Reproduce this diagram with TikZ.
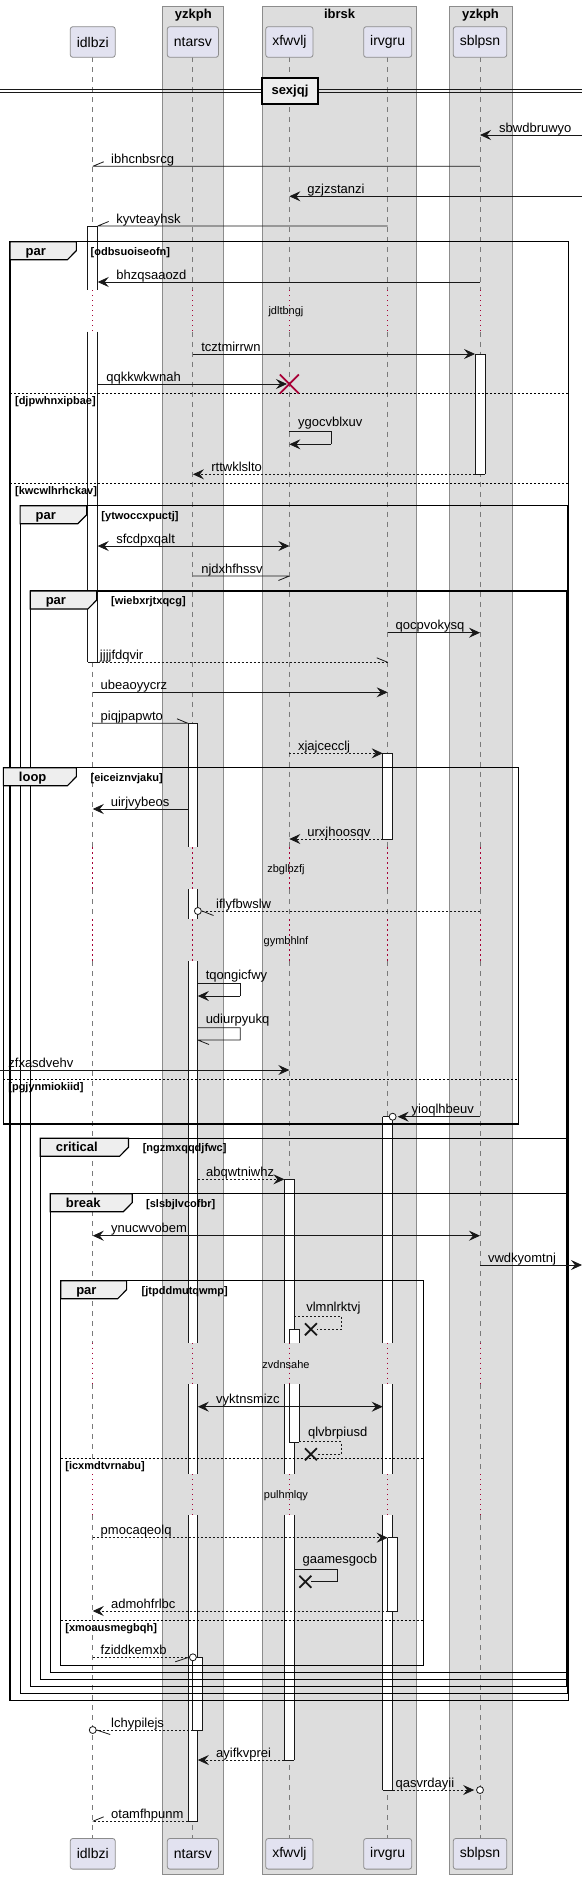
\documentclass[tikz,border=0pt]{standalone}
\usepackage{fontspec}
\setmainfont{Liberation Sans}
\usetikzlibrary{arrows.meta}
\definecolor{grpfill}{HTML}{DDDDDD}
\definecolor{grpline}{HTML}{8C8C8C}
\definecolor{partfill}{HTML}{E2E2F0}
\definecolor{partline}{HTML}{8C8C8C}
\definecolor{lifecol}{HTML}{7A7A7A}
\definecolor{crim}{HTML}{A80036}
\definecolor{tabfill}{HTML}{EEEEEE}
\definecolor{ink}{HTML}{181818}
\tikzset{
  grp/.style={draw=grpline, fill=grpfill, line width=0.8pt},
  grptitle/.style={anchor=base, inner sep=0, font=\bfseries\fontsize{13}{15}\selectfont},
  part/.style={draw=partline, fill=partfill, rounded corners=2.5pt, minimum height=30.6pt, inner xsep=6.5pt, inner ysep=0pt, font=\fontsize{14}{16}\selectfont, line width=0.8pt},
  life/.style={draw=lifecol, dash pattern=on 5pt off 5pt, line width=0.8pt},
  delayline/.style={draw=crim, dash pattern=on 1.3pt off 3.7pt, line width=1pt},
  actl/.style={draw=ink, line width=0.8pt},
  msg/.style={draw=ink, line width=0.8pt},
  ret/.style={msg, dash pattern=on 2pt off 2pt},
  head/.style={-{Stealth[length=11pt,width=10pt,inset=4pt]}},
  bihead/.style={{Stealth[length=11pt,width=10pt,inset=4pt]}-{Stealth[length=11pt,width=10pt,inset=4pt]}},
  lbl/.style={anchor=base west, inner sep=0, font=\fontsize{13}{15}\selectfont},
  frm/.style={draw=black, line width=1.2pt},
  tabst/.style={draw=black, fill=tabfill, line width=1.2pt},
  ttl/.style={anchor=base west, inner sep=0, font=\bfseries\fontsize{13}{15}\selectfont},
  cond/.style={anchor=base west, inner sep=0, font=\bfseries\fontsize{11}{13}\selectfont},
  sepl/.style={draw=black, line width=0.8pt, dash pattern=on 2pt off 2pt},
  dtext/.style={inner sep=0, font=\fontsize{11}{13}\selectfont},
  circ/.style={draw=ink, fill=white, line width=0.8pt},
  divbox/.style={draw=black, fill=tabfill, line width=1.6pt, minimum width=56pt, minimum height=26pt, inner sep=0, font=\bfseries\fontsize{13}{15}\selectfont}
}
\newcommand\actseg[6]{%
  \fill[white] (#1,#3) rectangle (#2,#4);
  \draw[actl] (#1,#3) -- (#1,#4) (#2,#3) -- (#2,#4);
  \ifnum#5=1 \draw[actl] (#1,#3) -- (#2,#3);\fi
  \ifnum#6=1 \draw[actl] (#1,#4) -- (#2,#4);\fi}
\newcommand\sdframe[9]{%
  \draw[frm] (#1,#2) rectangle (#3,#4);
  \filldraw[tabst] (#1,#2) -- (#5,#2) -- (#5,{#2+9}) -- ({#5-9},{#2+18}) -- (#1,{#2+18}) -- cycle;
  \node[ttl] (#9t) at ({#1+15.5},{#2+13.5}) {#6};
  \node[cond] (#9c) at (#8,{#2+13.5}) {#7};}
\newcommand\lifeseg[1]{%
  \draw[life] (#1,57.3) -- (#1,290);
  \draw[delayline] (#1,290) -- (#1,331.7);
  \draw[life] (#1,331.7) -- (#1,847.3);
  \draw[delayline] (#1,847.3) -- (#1,889);
  \draw[life] (#1,889) -- (#1,919.3);
  \draw[delayline] (#1,919.3) -- (#1,961);
  \draw[life] (#1,961) -- (#1,1342.7);
  \draw[delayline] (#1,1342.7) -- (#1,1384);
  \draw[life] (#1,1384) -- (#1,1474);
  \draw[delayline] (#1,1474) -- (#1,1515);
  \draw[life] (#1,1515) -- (#1,1838.3);}
\newcommand\xcross[4]{%
  \draw[#4, line width=1.8pt] ({#1-#3},{#2-#3}) -- ({#1+#3},{#2+#3}) ({#1-#3},{#2+#3}) -- ({#1+#3},{#2-#3});}
\begin{document}
\begin{tikzpicture}[x=0.993pt,y=-1pt]
\useasboundingbox (0,0) rectangle (586.1,1879);
\fill[white] (0,0) rectangle (586.1,1879);
% group boxes
\draw[grp] (163.9,6) rectangle (225.4,1874);
\node[grptitle] (g1) at (194.65,18.5) {yzkph};
\draw[grp] (264.4,6) rectangle (419.6,1874);
\node[grptitle] (g2) at (342,18.5) {ibrsk};
\draw[grp] (452.25,6) rectangle (515.6,1874);
\node[grptitle] (g3) at (483.9,18.5) {yzkph};
% lifelines
\foreach \xx in {93.4,194.25,291.4,390.4,483.4} {\lifeseg{\xx}}
% participants
\node[part] (pA) at (93.4,42) {idlbzi};
\node[part] (pB) at (194.25,42) {ntarsv};
\node[part] (pC) at (291.4,42) {xfwvlj};
\node[part] (pD) at (390.4,42) {irvgru};
\node[part] (pE) at (483.4,42) {sblpsn};
\node[part] (qA) at (93.4,1853.8) {idlbzi};
\node[part] (qB) at (194.25,1853.8) {ntarsv};
\node[part] (qC) at (291.4,1853.8) {xfwvlj};
\node[part] (qD) at (390.4,1853.8) {irvgru};
\node[part] (qE) at (483.4,1853.8) {sblpsn};
% divider
\draw[ink, line width=0.8pt] (0,89.3) -- (586.1,89.3) (0,92.7) -- (586.1,92.7);
\node[divbox] (div) at (292,91) {sexjqj};
% activations
\actseg{88.4}{98.4}{226}{290}{1}{0}
\actseg{88.4}{98.4}{331.7}{662.3}{0}{1}
\actseg{478.4}{488.4}{354}{474.3}{1}{1}
\actseg{189.25}{199.25}{723.3}{847.3}{1}{0}
\actseg{189.25}{199.25}{889}{919.3}{0}{0}
\actseg{189.25}{199.25}{961}{1342.7}{0}{0}
\actseg{189.25}{199.25}{1384}{1474}{0}{0}
\actseg{189.25}{199.25}{1515}{1821.3}{0}{1}
\actseg{194.25}{204.25}{1657.3}{1730}{1}{1}
\actseg{385.4}{395.4}{753.3}{839}{1}{1}
\actseg{385.4}{395.4}{1116.7}{1342.7}{1}{0}
\actseg{385.4}{395.4}{1384}{1474}{0}{0}
\actseg{385.4}{395.4}{1515}{1790}{0}{1}
\actseg{390.4}{400.4}{1537.7}{1611}{1}{1}
\actseg{286.4}{296.4}{1179.3}{1342.7}{1}{0}
\actseg{286.4}{296.4}{1384}{1474}{0}{0}
\actseg{286.4}{296.4}{1515}{1760}{0}{1}
\actseg{291.4}{301.4}{1329.3}{1342.7}{1}{0}
\actseg{291.4}{301.4}{1384}{1442.3}{0}{1}
% frames
\sdframe{10.1}{241.7}{572.5}{1700.7}{76.9}{par}{[odbsuoiseofn]}{91.1}{f1}
\draw[sepl] (10.1,393) -- (572.5,393);
\node[cond] (s1) at (15,404.4) {[djpwhnxipbae]};
\draw[sepl] (10.1,483.3) -- (572.5,483.3);
\node[cond] (s2) at (15,494.7) {[kwcwlhrhckav]};
\sdframe{20.25}{505.7}{571.5}{1693.7}{87.4}{par}{[ytwoccxpuctj]}{102}{f2}
\sdframe{30.4}{591}{571}{1686.7}{97.5}{par}{[wiebxrjtxqcg]}{111.75}{f3}
\sdframe{3.4}{767.7}{522.4}{1124}{76.9}{loop}{[eiceiznvjaku]}{91.1}{f4}
\draw[sepl] (3.4,1079.3) -- (522.4,1079.3);
\node[cond] (s3) at (8.25,1090.7) {[pgjynmiokiid]};
\sdframe{40.5}{1138.3}{571.5}{1679.7}{129.4}{critical}{[ngzmxqqdjfwc]}{143.6}{f5}
\sdframe{50.6}{1193.7}{571}{1672.7}{133.1}{break}{[slsbjlvcofbr]}{147}{f6}
\sdframe{61.1}{1280.7}{426.4}{1665.7}{127.5}{par}{[jtpddmutqwmp]}{142.5}{f7}
\draw[sepl] (61.1,1458.3) -- (426.4,1458.3);
\node[cond] (s4) at (65.6,1469.7) {[icxmdtvrnabu]};
\draw[sepl] (61.1,1620.3) -- (426.4,1620.3);
\node[cond] (s5) at (65.6,1631.7) {[xmoausmegbqh]};
% delays
\node[dtext] (d1) at (288,312) {jdltbngj};
\node[dtext] (d2) at (288,869.5) {zbglbzfj};
\node[dtext] (d3) at (288,941.5) {gymbhlnf};
\node[dtext] (d4) at (288,1364.5) {zvdnsahe};
\node[dtext] (d5) at (288,1495.5) {pulhmlqy};
% messages
\draw[msg,head] (586.1,135) -- (483.4,135);
\node[lbl] (m1) at (502.5,132) {sbwdbruwyo};
\draw[msg] (483.4,166.3) -- (93.4,166.3) (93.4,166.3) -- (104.4,161.8);
\node[lbl] (m2) at (111.75,163.3) {ibhcnbsrcg};
\draw[msg,head] (586.1,196.3) -- (291.4,196.3);
\node[lbl] (m3) at (309.4,193.3) {gzjzstanzi};
\draw[msg] (390.4,226) -- (98.4,226) (98.4,226) -- (109.4,221.5);
\node[lbl] (m4) at (117,223) {kyvteayhsk};
\draw[msg,head] (483.4,282) -- (98.4,282);
\node[lbl] (m5) at (117,279) {bhzqsaaozd};
\draw[msg,head] (194.25,354) -- (478.4,354);
\node[lbl] (m6) at (202.5,351) {tcztmirrwn};
\draw[msg,head] (98.4,384) -- (289,384);
\xcross{291.4}{384}{9.5}{crim}
\node[lbl] (m7) at (106.9,381) {qqkkwkwnah};
\draw[msg] (291.4,431.7) -- (333.75,431.7) -- (333.75,444.3);
\draw[msg,head] (333.75,444.3) -- (291.4,444.3);
\node[lbl] (m8) at (300,426.5) {ygocvblxuv};
\draw[ret,head] (478.4,474.3) -- (194.25,474.3);
\node[lbl] (m9) at (212.6,471.3) {rttwklslto};
\draw[msg,bihead] (98.4,546) -- (291.4,546);
\node[lbl] (m10) at (117,543) {sfcdpxqalt};
\draw[msg] (194.25,576) -- (291.4,576) (291.4,576) -- (280.4,580.5);
\node[lbl] (m11) at (202.5,573) {njdxhfhssv};
\draw[msg,head] (390.4,632.7) -- (483.4,632.7);
\node[lbl] (m12) at (398.25,629.7) {qocpvokysq};
\draw[ret] (98.4,662.3) -- (390.4,662.3);
\draw[msg] (390.4,662.3) -- (379.4,657.8);
\node[lbl] (m13) at (100.5,659.3) {jjjjfdqvir};
\draw[msg,head] (93.4,692.3) -- (390.4,692.3);
\node[lbl] (m14) at (101.25,689.3) {ubeaoyycrz};
\draw[msg] (93.4,723.3) -- (189.25,723.3) (189.25,723.3) -- (178.25,718.8);
\node[lbl] (m15) at (101.25,720.3) {piqjpapwto};
\draw[ret,head] (291.4,753.3) -- (385.4,753.3);
\node[lbl] (m16) at (300,750.3) {xjajcecclj};
\draw[msg,head] (189.25,809) -- (93.4,809);
\node[lbl] (m17) at (111.4,806) {uirjvybeos};
\draw[ret,head] (385.4,839) -- (291.4,839);
\node[lbl] (m18) at (309.4,836) {urxjhoosqv};
\draw[ret] (483.4,911) -- (203,911);
\draw[circ] (199.25,911) circle (3.5);
\draw[msg] (203.5,911) -- (215,915.5);
\node[lbl] (m19) at (217.5,908) {iflyfbwslw};
\draw[msg] (199.25,983.3) -- (241.9,983.3) -- (241.9,996);
\draw[msg,head] (241.9,996) -- (199.25,996);
\node[lbl] (m20) at (207,979) {tqongicfwy};
\draw[msg] (199.25,1027.7) -- (241.9,1027.7) -- (241.9,1040) -- (199.25,1040) (199.25,1040) -- (210.5,1044.5);
\node[lbl] (m21) at (207,1023.5) {udiurpyukq};
\draw[msg,head] (0,1070) -- (291.4,1070);
\node[lbl] (m22) at (8.25,1067) {zfxasdvehv};
\draw[msg,head] (483.4,1116.7) -- (400.5,1116.7);
\draw[circ] (395.4,1116.7) circle (3.5);
\node[lbl] (m23) at (414.4,1113.7) {yioqlhbeuv};
\draw[ret,head] (199.25,1179.3) -- (286.4,1179.3);
\node[lbl] (m24) at (207.4,1176.3) {abqwtniwhz};
\draw[msg,bihead] (93.4,1235.7) -- (483.4,1235.7);
\node[lbl] (m25) at (111.75,1232.7) {ynucwvobem};
\draw[msg,head] (483.4,1265) -- (586.1,1265);
\node[lbl] (m26) at (491.25,1262) {vwdkyomtnj};
\draw[ret] (296.4,1316) -- (343.9,1316) -- (343.9,1329.3) -- (319,1329.3);
\xcross{313.1}{1329.3}{6}{ink}
\node[lbl] (m27) at (308.25,1311) {vlmnlrktvj};
\draw[msg,bihead] (199.25,1406.7) -- (385.4,1406.7);
\node[lbl] (m28) at (217.5,1403.7) {vyktnsmizc};
\draw[ret] (301.4,1441.7) -- (343.9,1441.7) -- (343.9,1454.3) -- (319,1454.3);
\xcross{313.1}{1454.3}{6}{ink}
\node[lbl] (m29) at (310,1436.5) {qlvbrpiusd};
\draw[ret,head] (93.4,1537.7) -- (390.4,1537.7);
\node[lbl] (m30) at (101.25,1534.7) {pmocaqeolq};
\draw[msg] (296.4,1569) -- (339.4,1569) -- (339.4,1581.7) -- (313.5,1581.7);
\xcross{307.5}{1581.7}{6}{ink}
\node[lbl] (m31) at (304.5,1563.5) {gaamesgocb};
\draw[ret,head] (390.4,1611) -- (93.4,1611);
\node[lbl] (m32) at (111.75,1608) {admohfrlbc};
\draw[ret] (93.4,1657.3) -- (190.75,1657.3);
\draw[circ] (194.25,1657.3) circle (3.5);
\draw[msg] (190,1657.3) -- (176.5,1661.8);
\node[lbl] (m33) at (101.25,1654.3) {fziddkemxb};
\draw[ret] (194.25,1730) -- (96.9,1730);
\draw[circ] (93.4,1730) circle (3.5);
\draw[msg] (97.5,1730) -- (111,1734.5);
\node[lbl] (m34) at (111.75,1727) {lchypilejs};
\draw[ret,head] (286.4,1760) -- (199.25,1760);
\node[lbl] (m35) at (217.5,1757) {ayifkvprei};
\draw[ret,head] (395.4,1790) -- (477.5,1790);
\draw[circ] (483.4,1790) circle (3.5);
\node[lbl] (m36) at (398.25,1787) {qasvrdayii};
\draw[ret] (189.25,1821.3) -- (93.4,1821.3);
\draw[msg] (93.4,1821.3) -- (104.4,1816.8);
\node[lbl] (m37) at (111.75,1818.3) {otamfhpunm};
\end{tikzpicture}
\end{document}
